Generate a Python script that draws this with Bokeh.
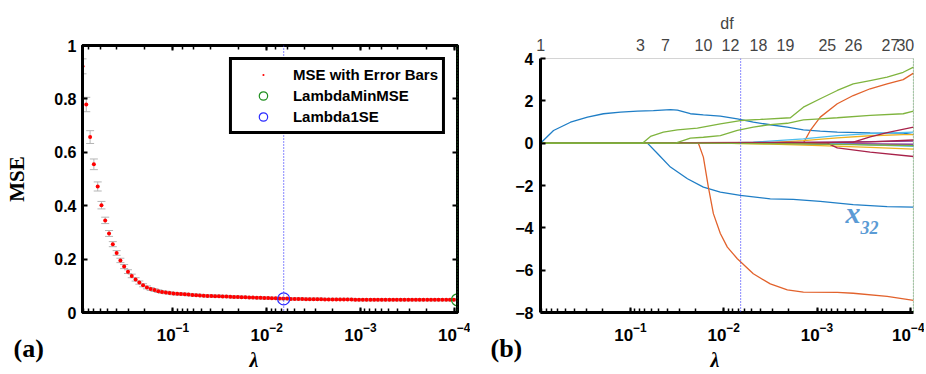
import math
from bokeh.plotting import figure
from bokeh.layouts import row
from bokeh.models import (Range1d, LogAxis, LinearAxis, FixedTicker, LogTicker, Whisker, TeeHead,
                          ColumnDataSource, Span, Label, Legend, LegendItem, NumeralTickFormatter,
                          CustomJSTickFormatter, Title)
from bokeh.embed import file_html
from bokeh.resources import INLINE

# ---------------- data ----------------
LOG10_LAMBDA = [
    -0.035, -0.075, -0.116, -0.156, -0.197, -0.237, -0.277, -0.318, -0.358, -0.399,
    -0.439, -0.479, -0.520, -0.560, -0.601, -0.641, -0.681, -0.722, -0.762, -0.803,
    -0.843, -0.883, -0.924, -0.964, -1.005, -1.045, -1.085, -1.126, -1.166, -1.207,
    -1.247, -1.287, -1.328, -1.368, -1.409, -1.449, -1.490, -1.530, -1.570, -1.611,
    -1.651, -1.692, -1.732, -1.772, -1.813, -1.853, -1.894, -1.934, -1.974, -2.015,
    -2.055, -2.096, -2.136, -2.176, -2.217, -2.257, -2.298, -2.338, -2.378, -2.419,
    -2.459, -2.500, -2.540, -2.580, -2.621, -2.661, -2.702, -2.742, -2.782, -2.823,
    -2.863, -2.904, -2.944, -2.984, -3.025, -3.065, -3.106, -3.146, -3.186, -3.227,
    -3.267, -3.308, -3.348, -3.388, -3.429, -3.469, -3.510, -3.550, -3.591, -3.631,
    -3.671, -3.712, -3.752, -3.793, -3.833, -3.873, -3.914, -3.954, -3.995, -4.035,
]
MSE = [
    0.922, 0.779, 0.657, 0.555, 0.472, 0.402, 0.345, 0.296, 0.256, 0.223,
    0.195, 0.172, 0.153, 0.137, 0.124, 0.112, 0.102, 0.094, 0.088, 0.084,
    0.080, 0.077, 0.075, 0.073, 0.071, 0.070, 0.069, 0.068, 0.067, 0.066,
    0.065, 0.064, 0.063, 0.062, 0.062, 0.061, 0.061, 0.060, 0.060, 0.059,
    0.058, 0.058, 0.057, 0.057, 0.056, 0.056, 0.055, 0.055, 0.054, 0.054,
    0.053, 0.053, 0.052, 0.052, 0.052, 0.051, 0.051, 0.051, 0.051, 0.050,
    0.050, 0.050, 0.050, 0.050, 0.049, 0.049, 0.049, 0.049, 0.049, 0.049,
    0.049, 0.049, 0.048, 0.048, 0.048, 0.048, 0.048, 0.048, 0.048, 0.048,
    0.048, 0.048, 0.048, 0.048, 0.048, 0.048, 0.048, 0.048, 0.048, 0.048,
    0.048, 0.048, 0.048, 0.048, 0.048, 0.048, 0.048, 0.048, 0.048, 0.0476,
]
SE = [
    0.028, 0.027, 0.024, 0.020, 0.017, 0.014, 0.012, 0.011, 0.0095, 0.0088,
    0.0082, 0.0076, 0.0071, 0.0067, 0.0063, 0.0060, 0.0057, 0.0055, 0.0053, 0.0051,
    0.0050, 0.0049, 0.0048, 0.0047, 0.0046, 0.0046, 0.0045, 0.0045, 0.0044, 0.0044,
    0.0044, 0.0043, 0.0043, 0.0043, 0.0042, 0.0042, 0.0042, 0.0042, 0.0041, 0.0041,
    0.0041, 0.0041, 0.0041, 0.0040, 0.0040, 0.0040, 0.0040, 0.0040, 0.0040, 0.0040,
    0.0040, 0.0040, 0.0040, 0.0040, 0.0040, 0.0040, 0.0040, 0.0040, 0.0040, 0.0040,
    0.0040, 0.0040, 0.0040, 0.0040, 0.0040, 0.0040, 0.0040, 0.0040, 0.0040, 0.0040,
    0.0040, 0.0040, 0.0040, 0.0040, 0.0040, 0.0040, 0.0040, 0.0040, 0.0040, 0.0040,
    0.0040, 0.0040, 0.0040, 0.0040, 0.0040, 0.0040, 0.0040, 0.0040, 0.0040, 0.0040,
    0.0040, 0.0040, 0.0040, 0.0040, 0.0040, 0.0040, 0.0040, 0.0040, 0.0040, 0.0040,
]
LAMBDA_MAX = 0.923
LAMBDA_MIN = 0.0000923
LAMBDA_1SE = 0.0066
MSE_1SE = 0.051
MSE_MIN = 0.0476
Y_TICKS_A = [0, 0.2, 0.4, 0.6, 0.8, 1]
Y_TICKS_B = [-8, -6, -4, -2, 0, 2, 4]

DF_LAMBDA = [0.92, 0.0781, 0.0422, 0.0165, 0.00848, 0.00425, 0.00218, 0.000774, 0.000407, 0.000163, 0.000113]
DF_LABELS = ["1", "3", "7", "10", "12", "18", "19", "25", "26", "27", "30"]

# coefficient paths (lambda, coefficient)
PATH_O_X = [0.923, 0.00664, 0.000923, 0.0000923]
PATH_O_Y = [0, 0, -0.04, -0.08]
PATH_A_X = [0.923, 0.669, 0.440, 0.289, 0.195, 0.128, 0.0843, 0.0568, 0.0373, 0.0314, 0.0228, 0.01654,
            0.01088, 0.00715, 0.00482, 0.00317, 0.00208, 0.00140, 0.000923, 0.000606, 0.000269, 0.000119, 0.0000923]
PATH_A_Y = [0, 0.60, 0.99, 1.23, 1.39, 1.47, 1.51, 1.54, 1.58, 1.56, 1.39, 1.34,
            1.28, 1.15, 0.99, 0.87, 0.76, 0.63, 0.57, 0.52, 0.49, 0.47, 0.40]
PATH_B_X = [0.923, 0.0659, 0.0514, 0.0373, 0.0245, 0.01654, 0.01088, 0.00664, 0.00317, 0.00180,
            0.000923, 0.000409, 0.000177, 0.0000923]
PATH_B_Y = [0, 0, -0.49, -1.13, -1.68, -2.08, -2.31, -2.47, -2.63, -2.66, -2.75, -2.90, -3.00, -3.02]
PATH_C_X = [0.923, 0.0187, 0.01654, 0.01462, 0.01292, 0.01088, 0.00915, 0.00715, 0.00482, 0.00317,
            0.00208, 0.00140, 0.000606, 0.000409, 0.000177, 0.0000923]
PATH_C_Y = [0, 0, -0.66, -2.08, -3.33, -4.27, -4.91, -5.46, -6.17, -6.65, -6.93, -7.04, -7.05, -7.09, -7.24, -7.43]
PATH_D_X = [0.923, 0.00140, 0.00118, 0.000923, 0.000606, 0.000409, 0.000269, 0.000177, 0.000119, 0.0000923]
PATH_D_Y = [0, 0, 0.60, 1.23, 1.86, 2.25, 2.57, 2.80, 3.00, 3.31]
PATH_M_X = [0.923, 0.00317, 0.000409, 0.0000923]
PATH_M_Y = [0, 0, -0.05, -0.10]
PATH_H_X = [0.923, 0.00405, 0.00140, 0.000606, 0.000269, 0.000119, 0.0000923]
PATH_H_Y = [0, 0, 0.12, 0.25, 0.35, 0.40, 0.40]
PATH_I_X = [0.923, 0.01088, 0.00317, 0.000923, 0.000269, 0.0000923]
PATH_I_Y = [0, 0, -0.05, -0.12, -0.20, -0.28]
PATH_L_X = [0.923, 0.0187, 0.00140, 0.0000923]
PATH_L_Y = [0, 0, 0.04, 0.10]
PATH_R_X = [0.923, 0.00317, 0.0000923]
PATH_R_Y = [0, 0, -0.05]
PATH_G_X = [0.923, 0.01088, 0.00482, 0.00140, 0.000606, 0.000269, 0.0000923]
PATH_G_Y = [0, 0, 0.05, 0.20, 0.36, 0.45, 0.52]
PATH_Q_X = [0.923, 0.000923, 0.0000923]
PATH_Q_Y = [0, 0, -0.15]
PATH_J_X = [0.923, 0.000409, 0.000269, 0.000177, 0.0000923]
PATH_J_Y = [0, 0.05, 0.30, 0.50, 0.76]
PATH_K_X = [0.923, 0.000776, 0.000606, 0.000269, 0.0000923]
PATH_K_Y = [0, 0, -0.22, -0.42, -0.63]
PATH_P_X = [0.923, 0.00140, 0.000269, 0.0000923]
PATH_P_Y = [0, 0, 0.06, 0.15]
PATH_N_X = [0.923, 0.0187, 0.00140, 0.0000923]
PATH_N_Y = [0, 0, -0.03, -0.12]
PATH_F_X = [0.923, 0.0330, 0.0228, 0.01654, 0.01088, 0.00715, 0.00482, 0.00317, 0.00208, 0.00140,
            0.000923, 0.000606, 0.000269, 0.000119, 0.0000923]
PATH_F_Y = [0, 0, 0.24, 0.28, 0.36, 0.60, 0.76, 0.88, 0.94, 1.10, 1.15, 1.20, 1.31, 1.39, 1.51]
PATH_E_X = [0.923, 0.0745, 0.0611, 0.0444, 0.0314, 0.0192, 0.01088, 0.00664, 0.00405, 0.00193,
            0.00140, 0.000923, 0.000606, 0.000409, 0.000269, 0.000177, 0.000119, 0.0000923]
PATH_E_Y = [0, 0, 0.32, 0.52, 0.63, 0.71, 0.91, 1.07, 1.12, 1.20, 1.70, 2.10, 2.49, 2.80, 2.96, 3.12, 3.35, 3.59]

BLUE, ORANGE, YELLOW, PURPLE = "#1f7ec6", "#e2622c", "#edb120", "#8a3b9a"
GREEN, LBLUE, MAROON = "#7fb43e", "#4dbeee", "#a8224a"
PATHS = [
    (PATH_O_X, PATH_O_Y, BLUE), (PATH_A_X, PATH_A_Y, BLUE), (PATH_B_X, PATH_B_Y, BLUE),
    (PATH_C_X, PATH_C_Y, ORANGE), (PATH_D_X, PATH_D_Y, ORANGE), (PATH_M_X, PATH_M_Y, ORANGE),
    (PATH_H_X, PATH_H_Y, YELLOW), (PATH_I_X, PATH_I_Y, YELLOW),
    (PATH_L_X, PATH_L_Y, PURPLE), (PATH_R_X, PATH_R_Y, PURPLE),
    (PATH_G_X, PATH_G_Y, LBLUE), (PATH_Q_X, PATH_Q_Y, LBLUE),
    (PATH_J_X, PATH_J_Y, MAROON), (PATH_K_X, PATH_K_Y, MAROON), (PATH_P_X, PATH_P_Y, MAROON),
    (PATH_N_X, PATH_N_Y, GREEN), (PATH_F_X, PATH_F_Y, GREEN), (PATH_E_X, PATH_E_Y, GREEN),
]

SANS = "Liberation Sans"
SERIF = "Liberation Serif"


def blank():
    return CustomJSTickFormatter(code="return ''")


def style_axis(ax, size="16px"):
    ax.axis_line_width = 3
    ax.axis_line_color = "black"
    ax.major_tick_in = 5
    ax.major_tick_out = 0
    ax.major_tick_line_width = 2
    ax.minor_tick_in = 4
    ax.minor_tick_out = 0
    ax.minor_tick_line_width = 1.5
    ax.major_label_text_font = SANS
    ax.major_label_text_font_style = "bold"
    ax.major_label_text_font_size = size
    ax.major_label_text_color = "black"


def bottom_texts(p, tag, tag_offset, lam_offset):
    """Panel letter and the λ axis title, stacked under the x axis."""
    p.add_layout(Title(text=tag, align="left", offset=tag_offset, standoff=-20, vertical_align="top",
                       text_font=SERIF, text_font_style="bold", text_font_size="26px",
                       text_color="black"), "below")
    p.add_layout(Title(text="λ", align="left", offset=lam_offset, standoff=-12, vertical_align="top",
                       text_font=SERIF, text_font_style="bold italic", text_font_size="20px",
                       text_color="black"), "below")


def no_align(p):
    try:
        p.frame_align = False
    except Exception:
        pass


# ---------------- panel (a) ----------------
lam = [10 ** e for e in LOG10_LAMBDA]
src = ColumnDataSource(dict(lam=lam, mse=MSE,
                            upper=[m + s for m, s in zip(MSE, SE)],
                            lower=[m - s for m, s in zip(MSE, SE)]))

p1 = figure(width=470, height=372, x_axis_type="log",
            x_range=Range1d(LAMBDA_MAX, LAMBDA_MIN), y_range=Range1d(0, 1),
            output_backend="svg", toolbar_location=None,
            min_border_left=82, min_border_right=13, min_border_top=45, min_border_bottom=60)
no_align(p1)
p1.grid.visible = False
p1.outline_line_color = "black"
p1.outline_line_width = 3
p1.background_fill_color = "white"
p1.border_fill_color = "white"

style_axis(p1.yaxis[0])
p1.yaxis[0].ticker = FixedTicker(ticks=Y_TICKS_A)
p1.yaxis[0].formatter = NumeralTickFormatter(format="0.[0]")
p1.yaxis[0].major_label_standoff = 6
p1.yaxis[0].axis_label = "MSE"
p1.yaxis[0].axis_label_text_font = SERIF
p1.yaxis[0].axis_label_text_font_style = "bold"
p1.yaxis[0].axis_label_text_font_size = "21px"
p1.yaxis[0].axis_label_text_color = "black"
p1.yaxis[0].axis_label_standoff = 22

style_axis(p1.xaxis[0], "17px")
p1.xaxis[0].major_label_standoff = 10

ax_r = LinearAxis(ticker=FixedTicker(ticks=Y_TICKS_A), formatter=blank())
style_axis(ax_r)
p1.add_layout(ax_r, "right")
ax_t = LogAxis(ticker=LogTicker(), formatter=blank())
style_axis(ax_t)
p1.add_layout(ax_t, "above")

p1.add_layout(Whisker(source=src, base="lam", upper="upper", lower="lower",
                      line_color="#b5b5b5", line_width=1,
                      upper_head=TeeHead(size=8, line_color="#b5b5b5", line_width=1),
                      lower_head=TeeHead(size=8, line_color="#b5b5b5", line_width=1)))
r_pts = p1.scatter("lam", "mse", source=src, marker="dot", size=16,
                   fill_color="#ff0000", line_color="#ff0000")

p1.add_layout(Span(location=LAMBDA_1SE, dimension="height", line_color="#3a3aff",
                   line_dash="1 2", line_width=1.2))
p1.add_layout(Span(location=LAMBDA_MIN, dimension="height", line_color="#1f9a1f",
                   line_dash="1 2", line_width=1.2))

r_min = p1.scatter(x=[LAMBDA_MIN], y=[MSE_MIN], marker="circle", size=12,
                   fill_color=None, line_color="#1f8f1f", line_width=1.2)
r_1se = p1.scatter(x=[LAMBDA_1SE], y=[MSE_1SE], marker="circle", size=12,
                   fill_color=None, line_color="#2b2bff", line_width=1.2)

legend = Legend(items=[LegendItem(label="MSE with Error Bars", renderers=[r_pts]),
                       LegendItem(label="LambdaMinMSE", renderers=[r_min]),
                       LegendItem(label="Lambda1SE", renderers=[r_1se])],
                location="top_right", margin=12, padding=4, spacing=0,
                glyph_height=21, label_height=21, glyph_width=54, label_standoff=3,
                border_line_color="black", border_line_width=3, border_line_alpha=1,
                background_fill_color="white", background_fill_alpha=1,
                label_text_font=SANS, label_text_font_style="bold", label_text_font_size="15px",
                label_text_color="black")
p1.add_layout(legend)

bottom_texts(p1, "(a)", -69, 167)

# ---------------- panel (b) ----------------
p2 = figure(width=454, height=372, x_axis_type="log",
            x_range=Range1d(LAMBDA_MAX, LAMBDA_MIN), y_range=Range1d(-8, 4),
            output_backend="svg", toolbar_location=None,
            min_border_left=70, min_border_right=11, min_border_top=58, min_border_bottom=60)
no_align(p2)
p2.grid.visible = False
p2.outline_line_color = "#d4d4d4"
p2.outline_line_width = 1

for xs, ys, c in PATHS:
    p2.line(xs, ys, line_color=c, line_width=1.3)

p2.add_layout(Span(location=LAMBDA_1SE, dimension="height", line_color="#3a3aff",
                   line_dash="1 2", line_width=1.2))
p2.add_layout(Span(location=LAMBDA_MIN, dimension="height", line_color="#1f9a1f",
                   line_dash="1 2", line_width=1.2))

style_axis(p2.yaxis[0])
p2.yaxis[0].ticker = FixedTicker(ticks=Y_TICKS_B)
p2.yaxis[0].major_label_standoff = 7
style_axis(p2.xaxis[0], "17px")
p2.xaxis[0].major_label_standoff = 10

df_fmt = CustomJSTickFormatter(args=dict(t=DF_LAMBDA, l=DF_LABELS), code="""
let best = 0, bd = Infinity;
for (let i = 0; i < t.length; i++) {
  const d = Math.abs(Math.log(t[i]) - Math.log(tick));
  if (d < bd) { bd = d; best = i; }
}
return l[best];
""")
ax_df = LogAxis(ticker=FixedTicker(ticks=DF_LAMBDA), formatter=df_fmt, axis_label="df",
                axis_line_color="#d4d4d4", axis_line_width=1,
                major_tick_in=0, major_tick_out=0, minor_tick_in=0, minor_tick_out=0,
                major_label_standoff=8, major_label_text_font=SANS,
                major_label_text_font_style="normal", major_label_text_font_size="16px",
                axis_label_text_font=SANS, axis_label_text_font_style="normal",
                axis_label_text_font_size="16px", axis_label_standoff=4)
p2.add_layout(ax_df, "above")

bottom_texts(p2, "(b)", -50, 170)
p2.add_layout(Label(x=305, y=84, x_units="screen", y_units="screen", text="x",
                    text_font=SERIF, text_font_style="bold italic", text_font_size="30px",
                    text_color="#5b9bd5"))
p2.add_layout(Label(x=320, y=79, x_units="screen", y_units="screen", text="32",
                    text_font=SERIF, text_font_style="bold italic", text_font_size="18px",
                    text_color="#5b9bd5"))

layout = row(p1, p2)
open("out.html", "w").write(file_html(layout, INLINE))
